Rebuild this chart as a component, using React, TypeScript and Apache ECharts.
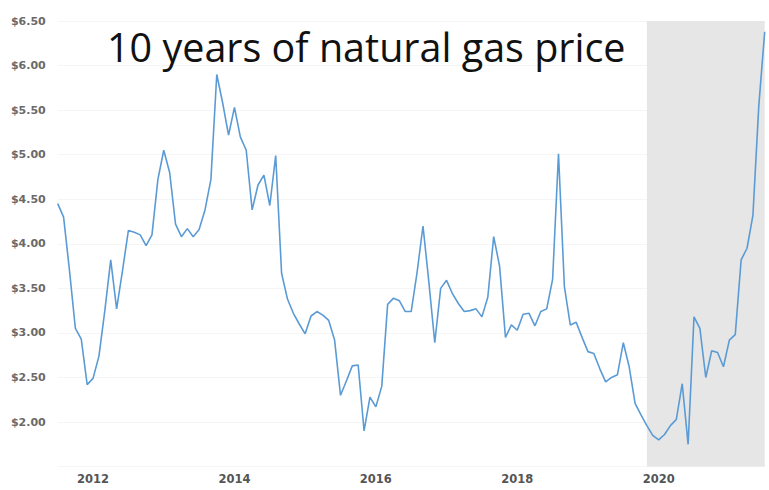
import React, { useEffect, useRef } from "react";
import * as echarts from "echarts";

// Monthly categories: Jul 2011 .. Jul 2021
const startYear = 2011;
const startMonth = 7;
const prices: number[] = [
  4.45, 4.30, 3.70, 3.05, 2.93, 2.42, 2.49, 2.74, 3.25, 3.82, 3.27, 3.70,
  4.15, 4.13, 4.10, 3.98, 4.10, 4.72, 5.05, 4.80, 4.22, 4.08, 4.17, 4.08,
  4.16, 4.38, 4.72, 5.90, 5.58, 5.22, 5.53, 5.20, 5.05, 4.38, 4.66, 4.77,
  4.43, 4.99, 3.67, 3.38, 3.22, 3.10, 2.99, 3.19, 3.24, 3.20, 3.14, 2.92,
  2.30, 2.46, 2.63, 2.64, 1.90, 2.28, 2.17, 2.40, 3.32, 3.39, 3.36, 3.24,
  3.24, 3.68, 4.20, 3.57, 2.89, 3.50, 3.59, 3.44, 3.33, 3.24, 3.25, 3.27,
  3.18, 3.40, 4.08, 3.75, 2.95, 3.09, 3.03, 3.21, 3.22, 3.08, 3.24, 3.27,
  3.60, 5.01, 3.52, 3.09, 3.12, 2.95, 2.79, 2.77, 2.60, 2.45, 2.50, 2.53,
  2.89, 2.62, 2.21, 2.08, 1.96, 1.85, 1.80, 1.86, 1.96, 2.03, 2.43, 1.75,
  3.18, 3.05, 2.50, 2.80, 2.78, 2.62, 2.92, 2.98, 3.82, 3.95, 4.32, 5.55,
  6.38,
];
const months: string[] = prices.map((_, i) => {
  const t = startYear * 12 + (startMonth - 1) + i;
  const y = Math.floor(t / 12);
  const m = (t % 12) + 1;
  return `${y}-${m < 10 ? "0" + m : m}`;
});
const shadeStart = "2019-11";
const shadeEnd = "2021-07";
const titleText = "10 years of natural gas price";

export default function App() {
  const ref = useRef<HTMLDivElement>(null);
  useEffect(() => {
    document.body.style.margin = "0";
    const chart = echarts.init(ref.current!, null, { renderer: "svg" });
    chart.setOption({
      animation: false,
      backgroundColor: "#ffffff",
      title: {
        text: titleText,
        left: 102,
        top: 22,
        textStyle: {
          fontFamily: "Open Sans",
          fontSize: 39.5,
          fontWeight: "normal",
          color: "#111111",
        },
      },
      grid: { left: 57.7, right: 4.3, top: 21, bottom: 23.4, containLabel: false },
      xAxis: {
        type: "category",
        data: months,
        boundaryGap: false,
        axisLine: { show: false },
        axisTick: { show: false },
        splitLine: { show: false },
        axisLabel: {
          interval: (idx: number, val: string) =>
            val.endsWith("-01") && parseInt(val.slice(0, 4), 10) % 2 === 0,
          formatter: (val: string) => val.slice(0, 4),
          fontFamily: "DejaVu Sans",
          fontWeight: "bold",
          fontSize: 11.5,
          color: "#555555",
          margin: 6,
        },
      },
      yAxis: {
        type: "value",
        min: 1.5,
        max: 6.5,
        interval: 0.5,
        axisLine: { show: false },
        axisTick: { show: false },
        splitLine: { show: true, lineStyle: { color: "#f5f5f5", width: 1 } },
        axisLabel: {
          formatter: (v: number) => (Math.abs(v - 1.5) < 1e-6 ? "" : "$" + v.toFixed(2)),
          fontFamily: "DejaVu Sans",
          fontWeight: "bold",
          fontSize: 11,
          color: "#6a6a6a",
          margin: 12,
        },
      },
      series: [
        {
          type: "line",
          data: prices,
          symbol: "none",
          lineStyle: { color: "#5b9bd5", width: 1.6 },
          markArea: {
            silent: true,
            itemStyle: { color: "#e6e6e6" },
            data: [[{ xAxis: shadeStart }, { xAxis: shadeEnd }]],
          },
        },
      ],
    });
    return () => chart.dispose();
  }, []);
  return <div ref={ref} style={{ width: 769, height: 490 }} />;
}
